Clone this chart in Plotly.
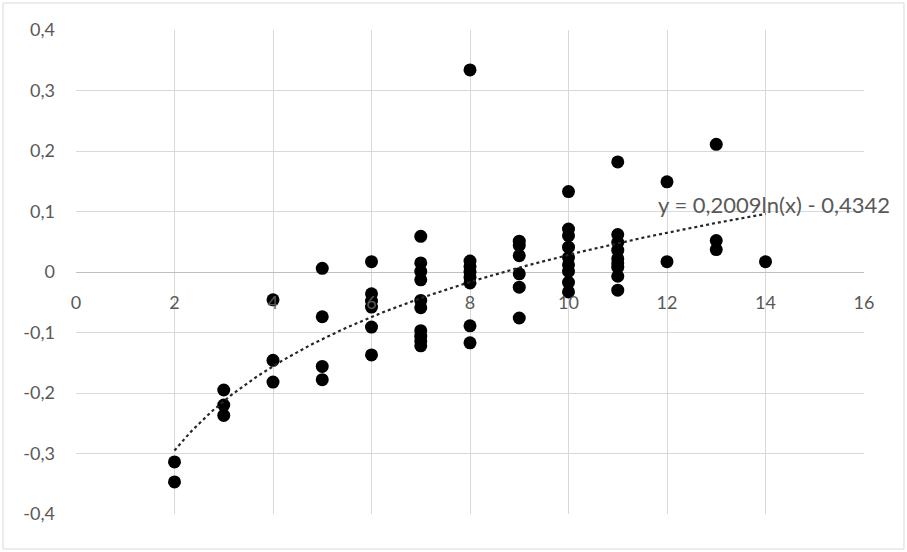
import plotly.graph_objects as go
import numpy as np

# ---- data ----
x_vals = [2, 2,
          3, 3, 3,
          4, 4, 4,
          5, 5, 5, 5,
          6, 6, 6, 6, 6, 6,
          7, 7, 7, 7, 7, 7, 7, 7, 7, 7,
          8, 8, 8, 8, 8, 8, 8, 8,
          9, 9, 9, 9, 9, 9,
          10, 10, 10, 10, 10, 10, 10, 10, 10,
          11, 11, 11, 11, 11, 11, 11, 11, 11,
          12, 12,
          13, 13, 13,
          14]
y_vals = [-0.314, -0.347,
          -0.195, -0.220, -0.237,
          -0.046, -0.146, -0.182,
          0.006, -0.074, -0.156, -0.178,
          0.017, -0.036, -0.048, -0.058, -0.091, -0.137,
          0.059, 0.015, 0.001, -0.013, -0.047, -0.059, -0.097, -0.106, -0.114, -0.122,
          0.334, 0.018, 0.009, 0.000, -0.009, -0.018, -0.089, -0.117,
          0.051, 0.044, 0.027, -0.003, -0.025, -0.076,
          0.133, 0.071, 0.060, 0.041, 0.024, 0.012, 0.001, -0.017, -0.033,
          0.182, 0.062, 0.049, 0.036, 0.022, 0.008, -0.007, 0.015, -0.030,
          0.149, 0.017,
          0.211, 0.052, 0.037,
          0.017]

# trendline (logarithmic) coefficients as displayed on the chart
trend_a = 0.2009
trend_b = -0.4342
trend_x_start = 2
trend_x_end = 14
trend_label = "y = 0,2009ln(x) - 0,4342"

x_ticks = [0, 2, 4, 6, 8, 10, 12, 14, 16]
y_ticks = [-0.4, -0.3, -0.2, -0.1, 0, 0.1, 0.2, 0.3, 0.4]
y_tick_text = ["-0,4", "-0,3", "-0,2", "-0,1", "0", "0,1", "0,2", "0,3", "0,4"]

tx = np.linspace(trend_x_start, trend_x_end, 200)
ty = trend_a * np.log(tx) + trend_b

FONT = "Lato"
GRAY = "#595959"
W, H = 907, 552
ML, MR, MT, MB = 76, 43, 30, 38

fig = go.Figure()
fig.add_trace(go.Scatter(x=x_vals, y=y_vals, mode="markers",
                         marker=dict(color="black", size=13),
                         showlegend=False, hoverinfo="x+y"))
fig.add_trace(go.Scatter(x=tx, y=ty, mode="lines",
                         line=dict(color="#262626", width=2.2, dash="dot"),
                         showlegend=False, hoverinfo="skip"))

fig.add_annotation(x=trend_x_end, y=trend_a * np.log(trend_x_end) + trend_b,
                   xref="x", yref="y", text=trend_label, showarrow=False,
                   xanchor="center", yanchor="middle", xshift=8, yshift=9,
                   font=dict(family=FONT, size=22, color=GRAY))

pw = W - ML - MR
ph = H - MT - MB
fig.add_shape(type="rect", xref="paper", yref="paper",
              x0=(3 - ML) / pw, x1=(W - 3 - ML) / pw,
              y0=-(MB - 3) / ph, y1=1 + (MT - 3) / ph,
              line=dict(color="#d9d9d9", width=1), layer="below")

fig.update_layout(
    width=W, height=H,
    margin=dict(l=ML, r=MR, t=MT, b=MB),
    paper_bgcolor="white", plot_bgcolor="white",
    font=dict(family=FONT, size=18, color=GRAY),
    xaxis=dict(range=[0, 16], tickvals=x_ticks, ticktext=[str(v) for v in x_ticks],
               showgrid=True, gridcolor="#d9d9d9", gridwidth=1,
               zeroline=False, showline=False, ticks="",
               anchor="free", position=0.5, ticklabelstandoff=18,
               tickfont=dict(family=FONT, size=18, color=GRAY)),
    yaxis=dict(range=[-0.4, 0.4], tickvals=y_ticks, ticktext=y_tick_text,
               showgrid=True, gridcolor="#d9d9d9", gridwidth=1,
               zeroline=True, zerolinecolor="#bfbfbf", zerolinewidth=1,
               showline=False, ticks="", ticklabelstandoff=20,
               tickfont=dict(family=FONT, size=18, color=GRAY)),
)

fig.write_html("out.html", config={"displayModeBar": False},
               post_script="document.body.style.margin='0';document.body.style.overflow='hidden';")
